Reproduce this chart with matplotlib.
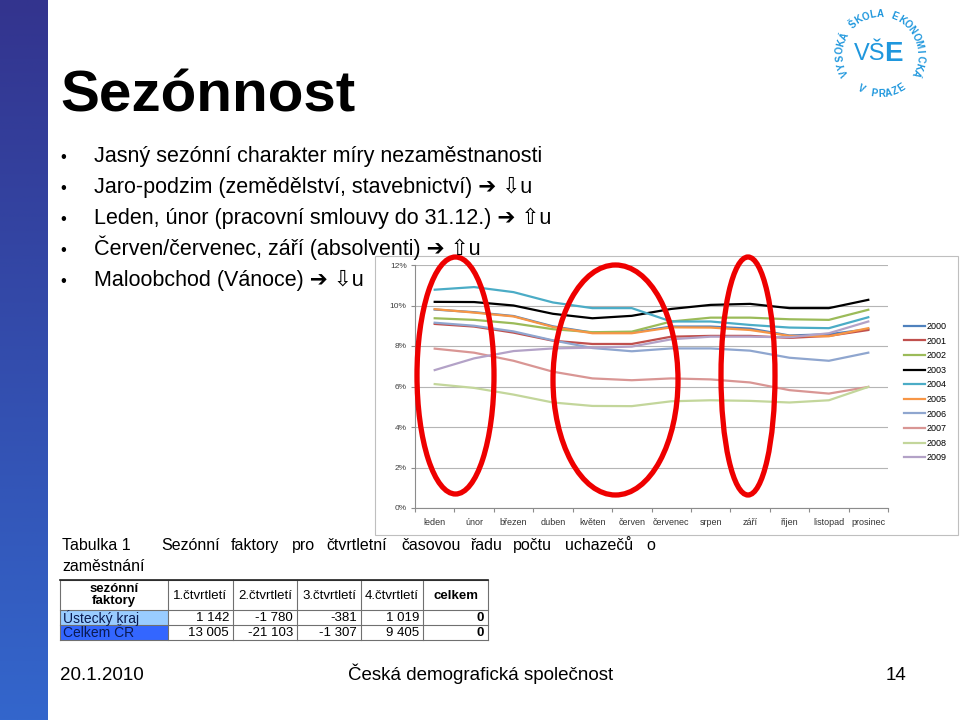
import numpy as np
import matplotlib as mpl
import matplotlib.pyplot as plt
from matplotlib import font_manager
from matplotlib.patches import Ellipse, Rectangle

mpl.use("agg")

# data
months = ["leden", "únor", "březen", "duben", "květen", "červen",
          "červenec", "srpen", "září", "říjen", "listopad", "prosinec"]
years = ["2000", "2001", "2002", "2003", "2004", "2005", "2006", "2007", "2008", "2009"]
u2000 = [9.80, 9.67, 9.48, 8.97, 8.66, 8.66, 8.96, 8.96, 8.86, 8.52, 8.58, 8.83]
u2001 = [9.09, 8.96, 8.66, 8.26, 8.10, 8.10, 8.46, 8.50, 8.50, 8.40, 8.50, 8.79]
u2002 = [9.37, 9.29, 9.12, 8.83, 8.68, 8.71, 9.21, 9.40, 9.40, 9.32, 9.29, 9.79]
u2003 = [10.18, 10.17, 10.00, 9.59, 9.37, 9.49, 9.83, 10.03, 10.08, 9.87, 9.87, 10.28]
u2004 = [10.78, 10.91, 10.66, 10.15, 9.87, 9.87, 9.21, 9.21, 9.04, 8.91, 8.88, 9.42]
u2005 = [9.82, 9.65, 9.46, 8.94, 8.63, 8.63, 8.92, 8.91, 8.79, 8.50, 8.48, 8.88]
u2006 = [9.15, 9.00, 8.72, 8.28, 7.90, 7.74, 7.88, 7.88, 7.77, 7.42, 7.27, 7.67]
u2007 = [7.87, 7.67, 7.27, 6.73, 6.40, 6.31, 6.40, 6.35, 6.20, 5.82, 5.65, 5.98]
u2008 = [6.12, 5.93, 5.60, 5.21, 5.04, 5.03, 5.27, 5.32, 5.29, 5.21, 5.32, 5.98]
u2009 = [6.81, 7.39, 7.75, 7.88, 7.92, 7.97, 8.33, 8.46, 8.46, 8.43, 8.63, 9.21]
series = [u2000, u2001, u2002, u2003, u2004, u2005, u2006, u2007, u2008, u2009]
colors = ["#4f81bd", "#c0504d", "#9bbb59", "#000000", "#4bacc6",
          "#f79646", "#8fa6cf", "#d99694", "#c3d69b", "#b3a2c7"]
y_ticks = [0, 2, 4, 6, 8, 10, 12]

title = "Sezónnost"
bullets = ["Jasný sezónní charakter míry nezaměstnanosti",
           "Jaro-podzim (zemědělství, stavebnictví) ➔ ⇩u",
           "Leden, únor (pracovní smlouvy do 31.12.) ➔ ⇧u",
           "Červen/červenec, září (absolventi) ➔ ⇧u",
           "Maloobchod (Vánoce) ➔ ⇩u"]

caption_words = ["Sezónní", "faktory", "pro", "čtvrtletní", "časovou", "řadu",
                 "počtu", "uchazečů", "o"]
table_head = ["1.čtvrtletí", "2.čtvrtletí", "3.čtvrtletí", "4.čtvrtletí", "celkem"]
table_rows = ["Ústecký kraj", "Celkem ČR"]
ustecky = ["1 142", "-1 780", "-381", "1 019", "0"]
celkem_cr = ["13 005", "-21 103", "-1 307", "9 405", "0"]

fam = ["Liberation Sans", "DejaVu Sans"]
plt.rcParams["font.family"] = fam
names = {f.name for f in font_manager.fontManager.ttflist}
if "Liberation Sans Narrow" in names:
    foot_fam, foot_size = ["Liberation Sans Narrow", "DejaVu Sans"], 16
else:
    foot_fam, foot_size = fam, 13.5

fig = plt.figure(figsize=(9.6, 7.2), dpi=100)

# overlay in pixel coordinates
ov = fig.add_axes([0, 0, 1, 1], zorder=5)
ov.patch.set_alpha(0)
top_c = np.array([0x33, 0x34, 0x8e]) / 255
bot_c = np.array([0x33, 0x66, 0xcc]) / 255
t = np.linspace(0, 1, 256)[:, None, None]
grad = top_c * (1 - t) + bot_c * t
ov.imshow(grad, extent=(0, 48, 720, 0), aspect="auto")
ov.set_xlim(0, 960)
ov.set_ylim(720, 0)
ov.axis("off")

ov.text(60, 112, title, fontsize=42, fontweight="bold", va="baseline")
for i, b in enumerate(bullets):
    yb = 162 + 31 * i
    ov.text(60, yb, "•", fontsize=12, va="baseline")
    ov.text(94, yb, b, fontsize=15.5, va="baseline")

# chart box
ov.add_patch(Rectangle((375, 256), 583, 279, fill=False, ec="#bfbfbf", lw=0.8))

# chart
ax = fig.add_axes([415 / 960, 1 - 508 / 720, 473 / 960, 243 / 720], zorder=1)
x = np.arange(len(months))
for name, vals, c in zip(years, series, colors):
    ax.plot(x, vals, color=c, lw=1.6, label=name)
ax.set_xlim(-0.5, 11.5)
ax.set_ylim(0, 12)
ax.set_yticks(y_ticks)
ax.set_yticklabels([f"{v}%" for v in y_ticks])
ax.set_xticks(np.arange(-0.5, 12, 1))
ax.set_xticklabels([])
ax.set_xticks(x, minor=True)
ax.set_xticklabels(months, minor=True)
ax.tick_params(axis="x", which="minor", length=0, pad=7, labelsize=6.5, labelcolor="#333333")
ax.tick_params(axis="x", which="major", length=3, color="#8c8c8c")
ax.tick_params(axis="y", length=3, color="#8c8c8c", labelsize=6, pad=3, labelcolor="#404040")
ax.grid(axis="y", color="#b5b5b5", lw=0.8)
ax.set_axisbelow(True)
for s in ["top", "right"]:
    ax.spines[s].set_visible(False)
for s in ["left", "bottom"]:
    ax.spines[s].set_color("#8c8c8c")

fig.legend(*ax.get_legend_handles_labels(), loc="upper left",
           bbox_to_anchor=(904 / 960, 1 - 322 / 720), frameon=False,
           fontsize=6.5, handlelength=2.3, handletextpad=0.25,
           labelspacing=0.62, borderpad=0, borderaxespad=0)

# red ellipses
for cx, cy, w, h in [(455.5, 375.5, 77, 237), (615.5, 380, 125, 230), (748, 376, 54, 238)]:
    ov.add_patch(Ellipse((cx, cy), w, h, fill=False, ec="#ee0000", lw=3.8))

# caption
ov.text(62, 550, "Tabulka 1", fontsize=11.5, va="baseline")
word_x = [161, 231, 292, 326, 401, 471, 513, 565, 646]
for wx, w in zip(word_x, caption_words):
    ov.text(wx, 550, w, fontsize=11.5, va="baseline")
ov.text(62, 571, "zaměstnání", fontsize=11.5, va="baseline")

# table
cx = [60, 168, 233, 297, 361, 423, 488]
ry = [580, 610, 625, 640]
ov.add_patch(Rectangle((cx[0], ry[1]), cx[1] - cx[0], ry[2] - ry[1], fc="#99ccff", ec="none"))
ov.add_patch(Rectangle((cx[0], ry[2]), cx[1] - cx[0], ry[3] - ry[2], fc="#3366ff", ec="none"))
for xx in cx:
    ov.plot([xx, xx], [ry[0], ry[-1]], color="#707070", lw=0.8)
for yy in ry:
    ov.plot([cx[0], cx[-1]], [yy, yy], color="#707070", lw=0.8)
ov.plot([cx[0], cx[-1]], [ry[0], ry[0]], color="#202020", lw=1.2)
ov.text((cx[0] + cx[1]) / 2, (ry[0] + ry[1]) / 2, "sezónní\nfaktory", fontsize=9.5,
        fontweight="bold", ha="center", va="center", linespacing=0.95)
for i, hd in enumerate(table_head):
    ov.text((cx[i + 1] + cx[i + 2]) / 2, (ry[0] + ry[1]) / 2 + 1, hd, fontsize=9.5,
            fontweight="bold" if hd == "celkem" else "normal", ha="center", va="center")
for r, (lab, vals) in enumerate(zip(table_rows, [ustecky, celkem_cr])):
    ymid = (ry[r + 1] + ry[r + 2]) / 2 + 0.5
    ov.text(cx[0] + 3, ymid, lab, fontsize=10, color="#0a1a50", ha="left", va="center")
    for i, v in enumerate(vals):
        ov.text(cx[i + 2] - 4, ymid, v, fontsize=9.5, ha="right", va="center",
                fontweight="bold" if i == 4 else "normal")

# footer
ov.text(60, 680, "20.1.2010", fontsize=foot_size, family=foot_fam, va="baseline")
ov.text(481, 680, "Česká demografická společnost", fontsize=foot_size, family=foot_fam,
        ha="center", va="baseline")
ov.text(906, 680, "14", fontsize=foot_size, family=foot_fam, ha="right", va="baseline")

# logo
logo_c = "#1f97dd"
lx, ly, lr = 880, 54, 40
top_txt = "VYSOKÁ ŠKOLA EKONOMICKÁ"
for ch, a in zip(top_txt, np.linspace(207, -28, len(top_txt))):
    r = np.deg2rad(a)
    ov.text(lx + lr * np.cos(r), ly - lr * np.sin(r), ch, rotation=a - 90, fontsize=7,
            fontweight="bold", color=logo_c, ha="center", va="center")
bot_txt = "V PRAZE"
for ch, a in zip(bot_txt, np.linspace(242, 302, len(bot_txt))):
    r = np.deg2rad(a)
    ov.text(lx + lr * np.cos(r), ly - lr * np.sin(r), ch, rotation=a + 90, fontsize=7,
            fontweight="bold", color=logo_c, ha="center", va="center")
ov.text(885, ly, "VŠ", fontsize=17, color=logo_c, ha="right", va="center")
ov.text(884, ly, "E", fontsize=20, fontweight="bold", color=logo_c, ha="left", va="center")

fig.savefig("out.png", dpi=100)
